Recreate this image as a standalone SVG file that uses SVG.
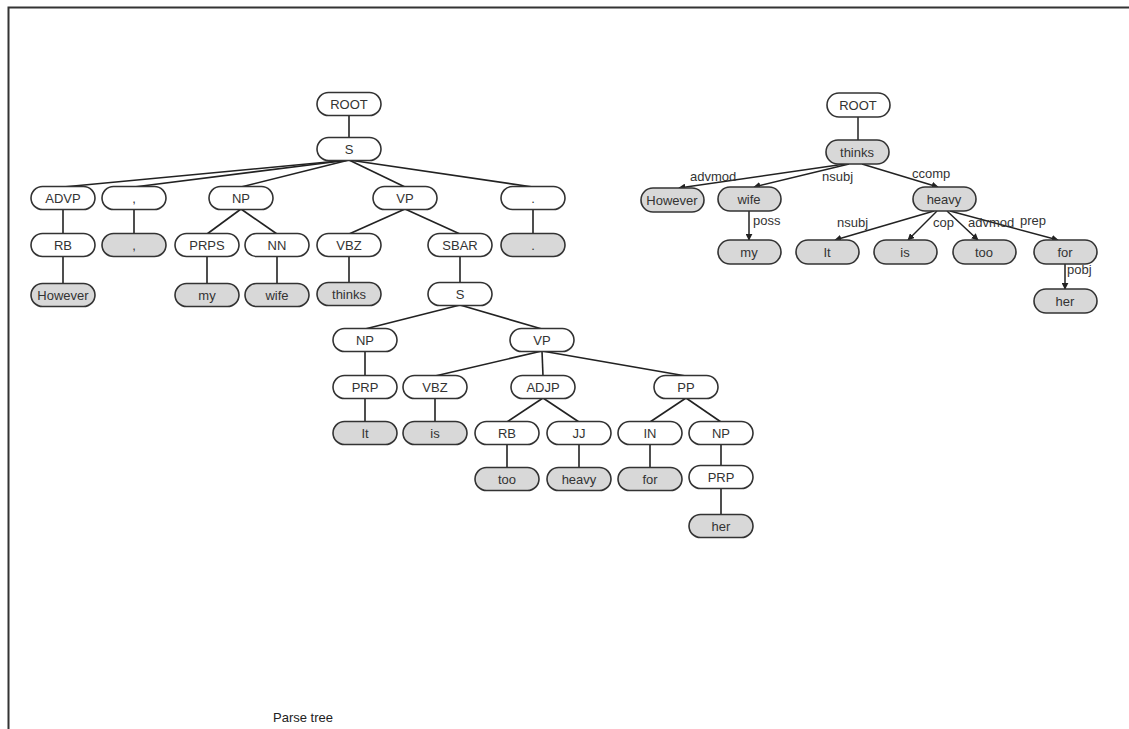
<svg xmlns="http://www.w3.org/2000/svg" width="1129" height="729" viewBox="0 0 1129 729">
<defs>
<marker id="arr" viewBox="0 0 10 10" refX="9" refY="5" markerWidth="7" markerHeight="7" markerUnits="userSpaceOnUse" orient="auto">
<path d="M0,0 L10,5 L0,10 z" fill="#222"/>
</marker>
<style>
.n rect{stroke:#333;stroke-width:1.6;fill:#fff}
.g rect{fill:#d8d8d8}
text{font-family:"Liberation Sans",Arial,sans-serif;font-size:13px;fill:#333}
.n text{text-anchor:middle}
#edges line{stroke:#222;stroke-width:1.6}
#deps line{stroke:#222;stroke-width:1.5}
#deps line.a{marker-end:url(#arr)}
</style>
</defs>
<rect width="1129" height="729" fill="#fff"/>
<path d="M8.5,729 V7.5 H1129" fill="none" stroke="#333" stroke-width="2"/>

<g id="edges">
<line x1="349" y1="115" x2="349" y2="138"/>
<line x1="349" y1="160" x2="63" y2="187"/>
<line x1="349" y1="160" x2="134" y2="187"/>
<line x1="349" y1="160" x2="241" y2="187"/>
<line x1="349" y1="160" x2="405" y2="187"/>
<line x1="349" y1="160" x2="533" y2="187"/>
<line x1="63" y1="209" x2="63" y2="234"/>
<line x1="134" y1="209" x2="134" y2="234"/>
<line x1="241" y1="209" x2="207" y2="234"/>
<line x1="241" y1="209" x2="277" y2="234"/>
<line x1="405" y1="209" x2="349" y2="234"/>
<line x1="405" y1="209" x2="460" y2="234"/>
<line x1="533" y1="209" x2="533" y2="234"/>
<line x1="63" y1="256" x2="63" y2="284"/>
<line x1="207" y1="256" x2="207" y2="284"/>
<line x1="277" y1="256" x2="277" y2="284"/>
<line x1="349" y1="256" x2="349" y2="283"/>
<line x1="460" y1="256" x2="460" y2="283"/>
<line x1="460" y1="305" x2="365" y2="329"/>
<line x1="460" y1="305" x2="542" y2="329"/>
<line x1="365" y1="351" x2="365" y2="376"/>
<line x1="542" y1="351" x2="435" y2="376"/>
<line x1="542" y1="351" x2="543" y2="376"/>
<line x1="542" y1="351" x2="686" y2="376"/>
<line x1="365" y1="398" x2="365" y2="422"/>
<line x1="435" y1="398" x2="435" y2="422"/>
<line x1="543" y1="398" x2="507" y2="422"/>
<line x1="543" y1="398" x2="579" y2="422"/>
<line x1="686" y1="398" x2="650" y2="422"/>
<line x1="686" y1="398" x2="721" y2="422"/>
<line x1="507" y1="444" x2="507" y2="468"/>
<line x1="579" y1="444" x2="579" y2="468"/>
<line x1="650" y1="444" x2="650" y2="468"/>
<line x1="721" y1="444" x2="721" y2="466"/>
<line x1="721" y1="488" x2="721" y2="515"/>
</g>

<g id="deps">
<line x1="858" y1="117" x2="858" y2="140"/>
<line class="a" x1="845" y1="164" x2="679" y2="188"/>
<line class="a" x1="849" y1="164" x2="754" y2="187"/>
<line class="a" x1="862" y1="164" x2="938" y2="187"/>
<line class="a" x1="749" y1="211" x2="749" y2="240"/>
<line class="a" x1="934" y1="211" x2="835" y2="240"/>
<line class="a" x1="937" y1="211" x2="908" y2="240"/>
<line class="a" x1="947" y1="211" x2="978" y2="240"/>
<line class="a" x1="950" y1="211" x2="1058" y2="240"/>
<line class="a" x1="1065" y1="264" x2="1065" y2="289"/>
<text x="690" y="181">advmod</text>
<text x="822" y="181">nsubj</text>
<text x="912" y="178">ccomp</text>
<text x="753" y="225">poss</text>
<text x="837" y="227">nsubj</text>
<text x="933" y="227">cop</text>
<text x="968" y="227">advmod</text>
<text x="1020" y="225">prep</text>
<text x="1067" y="274">pobj</text>
</g>

<!-- Parse tree nodes -->
<g id="p_root" class="n"><rect x="317" y="92.5" width="64" height="23" rx="11.5"/><text x="349" y="108.5">ROOT</text></g>
<g id="p_s" class="n"><rect x="317" y="137.5" width="64" height="23" rx="11.5"/><text x="349" y="153.5">S</text></g>
<g id="p_advp" class="n"><rect x="31" y="186.5" width="64" height="23" rx="11.5"/><text x="63" y="202.5">ADVP</text></g>
<g id="p_comma1" class="n"><rect x="102" y="186.5" width="64" height="23" rx="11.5"/><text x="134" y="202.5">,</text></g>
<g id="p_np1" class="n"><rect x="209" y="186.5" width="64" height="23" rx="11.5"/><text x="241" y="202.5">NP</text></g>
<g id="p_vp1" class="n"><rect x="373" y="186.5" width="64" height="23" rx="11.5"/><text x="405" y="202.5">VP</text></g>
<g id="p_period1" class="n"><rect x="501" y="186.5" width="64" height="23" rx="11.5"/><text x="533" y="202.5">.</text></g>
<g id="p_rb1" class="n"><rect x="31" y="233.5" width="64" height="23" rx="11.5"/><text x="63" y="249.5">RB</text></g>
<g id="p_comma2" class="n g"><rect x="102" y="233.5" width="64" height="23" rx="11.5"/><text x="134" y="249.5">,</text></g>
<g id="p_prps" class="n"><rect x="175" y="233.5" width="64" height="23" rx="11.5"/><text x="207" y="249.5">PRPS</text></g>
<g id="p_nn" class="n"><rect x="245" y="233.5" width="64" height="23" rx="11.5"/><text x="277" y="249.5">NN</text></g>
<g id="p_vbz1" class="n"><rect x="317" y="233.5" width="64" height="23" rx="11.5"/><text x="349" y="249.5">VBZ</text></g>
<g id="p_sbar" class="n"><rect x="428" y="233.5" width="64" height="23" rx="11.5"/><text x="460" y="249.5">SBAR</text></g>
<g id="p_period2" class="n g"><rect x="501" y="233.5" width="64" height="23" rx="11.5"/><text x="533" y="249.5">.</text></g>
<g id="p_however" class="n g"><rect x="31" y="283.5" width="64" height="23" rx="11.5"/><text x="63" y="299.5">However</text></g>
<g id="p_my" class="n g"><rect x="175" y="283.5" width="64" height="23" rx="11.5"/><text x="207" y="299.5">my</text></g>
<g id="p_wife" class="n g"><rect x="245" y="283.5" width="64" height="23" rx="11.5"/><text x="277" y="299.5">wife</text></g>
<g id="p_thinks" class="n g"><rect x="317" y="282.5" width="64" height="23" rx="11.5"/><text x="349" y="298.5">thinks</text></g>
<g id="p_s2" class="n"><rect x="428" y="282.5" width="64" height="23" rx="11.5"/><text x="460" y="298.5">S</text></g>
<g id="p_np2" class="n"><rect x="333" y="328.5" width="64" height="23" rx="11.5"/><text x="365" y="344.5">NP</text></g>
<g id="p_vp2" class="n"><rect x="510" y="328.5" width="64" height="23" rx="11.5"/><text x="542" y="344.5">VP</text></g>
<g id="p_prp1" class="n"><rect x="333" y="375.5" width="64" height="23" rx="11.5"/><text x="365" y="391.5">PRP</text></g>
<g id="p_vbz2" class="n"><rect x="403" y="375.5" width="64" height="23" rx="11.5"/><text x="435" y="391.5">VBZ</text></g>
<g id="p_adjp" class="n"><rect x="511" y="375.5" width="64" height="23" rx="11.5"/><text x="543" y="391.5">ADJP</text></g>
<g id="p_pp" class="n"><rect x="654" y="375.5" width="64" height="23" rx="11.5"/><text x="686" y="391.5">PP</text></g>
<g id="p_it" class="n g"><rect x="333" y="421.5" width="64" height="23" rx="11.5"/><text x="365" y="437.5">It</text></g>
<g id="p_is" class="n g"><rect x="403" y="421.5" width="64" height="23" rx="11.5"/><text x="435" y="437.5">is</text></g>
<g id="p_rb2" class="n"><rect x="475" y="421.5" width="64" height="23" rx="11.5"/><text x="507" y="437.5">RB</text></g>
<g id="p_jj" class="n"><rect x="547" y="421.5" width="64" height="23" rx="11.5"/><text x="579" y="437.5">JJ</text></g>
<g id="p_in" class="n"><rect x="618" y="421.5" width="64" height="23" rx="11.5"/><text x="650" y="437.5">IN</text></g>
<g id="p_np3" class="n"><rect x="689" y="421.5" width="64" height="23" rx="11.5"/><text x="721" y="437.5">NP</text></g>
<g id="p_too" class="n g"><rect x="475" y="467.5" width="64" height="23" rx="11.5"/><text x="507" y="483.5">too</text></g>
<g id="p_heavy" class="n g"><rect x="547" y="467.5" width="64" height="23" rx="11.5"/><text x="579" y="483.5">heavy</text></g>
<g id="p_for" class="n g"><rect x="618" y="467.5" width="64" height="23" rx="11.5"/><text x="650" y="483.5">for</text></g>
<g id="p_prp2" class="n"><rect x="689" y="465.5" width="64" height="23" rx="11.5"/><text x="721" y="481.5">PRP</text></g>
<g id="p_her" class="n g"><rect x="689" y="514.5" width="64" height="23" rx="11.5"/><text x="721" y="530.5">her</text></g>

<!-- Dependency nodes -->
<g id="d_root" class="n"><rect x="827" y="93" width="63" height="24" rx="12"/><text x="858" y="109.5">ROOT</text></g>
<g id="d_thinks" class="n g"><rect x="826" y="140" width="63" height="24" rx="12"/><text x="857" y="156.5">thinks</text></g>
<g id="d_however" class="n g"><rect x="641" y="188" width="63" height="24" rx="12"/><text x="672" y="204.5">However</text></g>
<g id="d_wife" class="n g"><rect x="718" y="187" width="63" height="24" rx="12"/><text x="749" y="203.5">wife</text></g>
<g id="d_heavy" class="n g"><rect x="913" y="187" width="63" height="24" rx="12"/><text x="944" y="203.5">heavy</text></g>
<g id="d_my" class="n g"><rect x="718" y="240" width="63" height="24" rx="12"/><text x="749" y="256.5">my</text></g>
<g id="d_it" class="n g"><rect x="796" y="240" width="63" height="24" rx="12"/><text x="827" y="256.5">It</text></g>
<g id="d_is" class="n g"><rect x="874" y="240" width="63" height="24" rx="12"/><text x="905" y="256.5">is</text></g>
<g id="d_too" class="n g"><rect x="953" y="240" width="63" height="24" rx="12"/><text x="984" y="256.5">too</text></g>
<g id="d_for" class="n g"><rect x="1034" y="240" width="63" height="24" rx="12"/><text x="1065" y="256.5">for</text></g>
<g id="d_her" class="n g"><rect x="1034" y="289" width="63" height="24" rx="12"/><text x="1065" y="305.5">her</text></g>

<text x="273" y="722" style="font-size:13px;fill:#222">Parse tree</text>
</svg>
